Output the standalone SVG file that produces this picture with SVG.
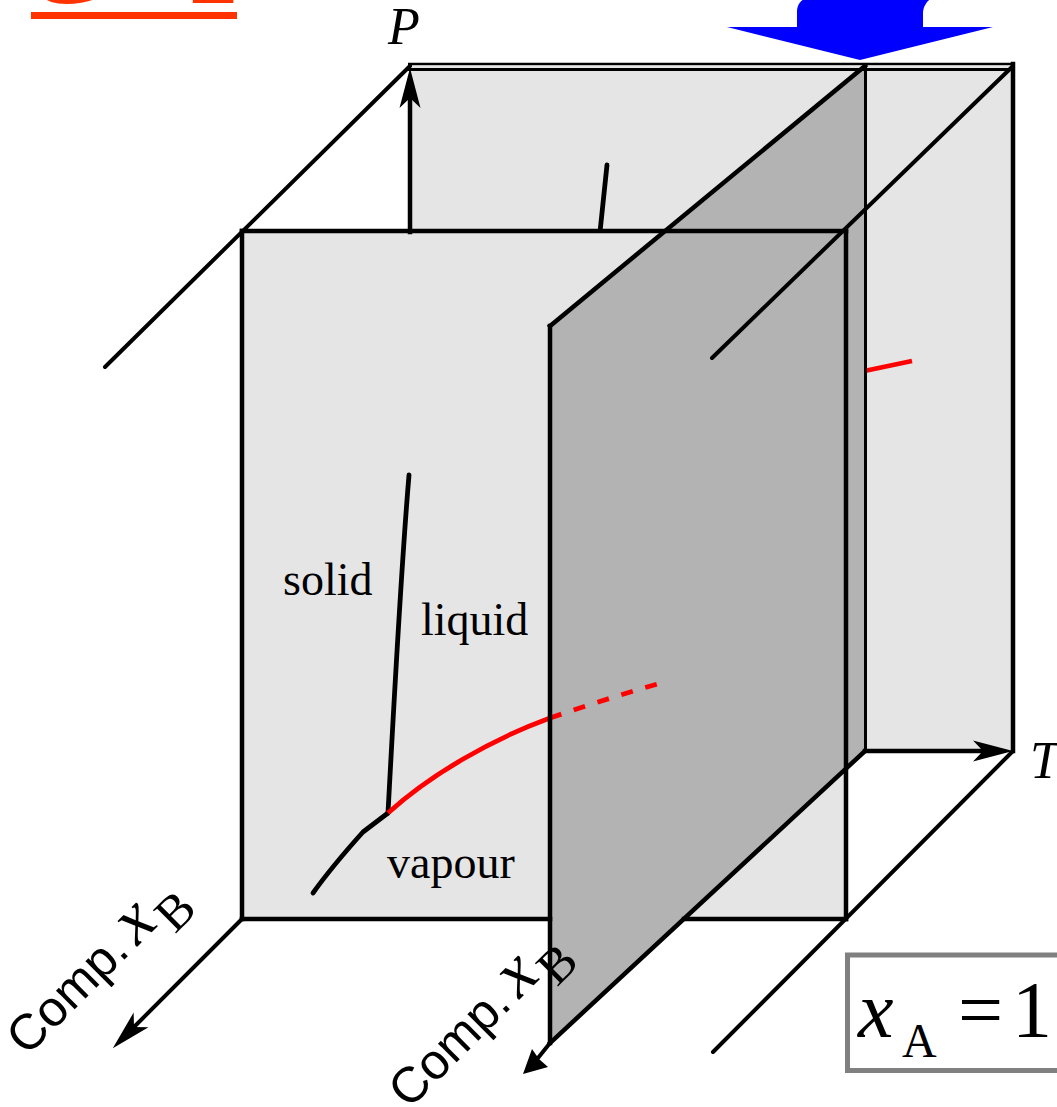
<svg xmlns="http://www.w3.org/2000/svg" width="1057" height="1107" viewBox="0 0 1057 1107">
<style>
.light{fill:#e5e5e5}
.dark{fill:#b3b3b3}
.edge{stroke:#000;stroke-width:4.5;fill:none;stroke-linecap:square}
.diag{stroke:#000;stroke-width:4;fill:none;stroke-linecap:round}
.curve{stroke:#000;stroke-width:4.8;fill:none;stroke-linecap:round;stroke-linejoin:round}
.red{stroke:#ff0000;stroke-width:4.8;fill:none;stroke-linecap:butt}
.phase{font-family:"Liberation Serif","Times New Roman",serif;font-size:46px;fill:#000}
.axis{font-family:"Liberation Serif","Times New Roman",serif;font-style:italic;font-size:52px;fill:#000}
.comp{font-family:"Liberation Sans",Arial,sans-serif;font-size:50px;fill:#000}
.sym{font-family:"Liberation Serif","Times New Roman",serif;fill:#000}
.it{font-family:"Liberation Serif","Times New Roman",serif;font-style:italic}
.title{font-family:"Liberation Serif","Times New Roman",serif;font-weight:bold;font-size:110px;fill:#ff3300}
</style>
<defs>
<marker id="ah" markerUnits="userSpaceOnUse" markerWidth="50" markerHeight="30" viewBox="-15 -15 50 30" refX="0" refY="0" orient="auto" overflow="visible">
<path d="M-10,-10.5 L30,0 L-10,10.5 L0,0 Z" fill="#000"/>
</marker>
</defs>

<g id="title">
<text class="title" y="3"><tspan x="23">C</tspan><tspan x="110">=</tspan><tspan x="184">1</tspan></text>
<rect x="31" y="12" width="206" height="7" fill="#ff3300"/>
</g>

<g id="direction-arrow">
<path d="M727,27 L797,27 L797,12 C797,4 801,0 808,-3 L812,-8 L945,-8 C932,-4 923,2 923,14 L923,27 L993,27 L860,60 Z" fill="#0000ff"/>
</g>

<g id="back-panel">
<rect class="light" x="410" y="66" width="603" height="685"/>
<path class="curve" d="M607,165 L600,232"/>
<path class="red" d="M850,374 L912,361"/>
</g>

<g id="front-panel">
<rect class="light" x="242" y="231" width="604" height="688"/>
<path class="curve" d="M409,475 C401,570 394,700 388,813"/>
<path class="curve" d="M388,813 L363,832 C345,852 328,872 313,893"/>
<path class="red" d="M388,813 C430,775 490,740 550,718"/>
<text class="phase" x="283" y="595">solid</text>
<text class="phase" x="421" y="635">liquid</text>
<text class="phase" x="387" y="878">vapour</text>
</g>

<g id="slice-panel">
<polygon class="dark" points="865,66 865,751 550,1043 550,326"/>
<path class="red" d="M550,718 Q605,699 661,683" stroke-dasharray="12 13"/>
<line class="edge" x1="865" y1="66" x2="550" y2="326"/>
<line class="edge" x1="550" y1="326" x2="550" y2="1043"/>
<line class="edge" x1="865" y1="751" x2="550" y2="1043"/>
<line stroke="#000" stroke-width="3" x1="865.5" y1="66" x2="865.5" y2="751"/>
</g>

<g id="connectors">
<line stroke="#000" stroke-width="2.5" x1="408" y1="64" x2="1015" y2="64"/>
<line stroke="#000" stroke-width="3" x1="408" y1="69.5" x2="1015" y2="69.5"/>
<line class="edge" x1="1013" y1="64" x2="1013" y2="751"/>
<line class="edge" x1="410" y1="232" x2="410" y2="98" marker-end="url(#ah)"/>
<line class="edge" x1="865" y1="751" x2="983" y2="751" marker-end="url(#ah)"/>
<line class="edge" x1="242" y1="231" x2="846" y2="231"/>
<line class="edge" x1="242" y1="231" x2="242" y2="919"/>
<line class="edge" x1="846" y1="231" x2="846" y2="919"/>
<line class="edge" x1="242" y1="919" x2="550" y2="919"/>
<line class="edge" x1="684" y1="919" x2="846" y2="919"/>
<line class="diag" x1="105" y1="367" x2="410" y2="66"/>
<line class="diag" x1="1013" y1="66" x2="712" y2="358"/>
<line class="diag" x1="1013" y1="751" x2="713" y2="1052"/>
<line class="diag" x1="242" y1="919" x2="134" y2="1027" marker-end="url(#ah)"/>
<line class="diag" x1="550" y1="1043" x2="538" y2="1058"/>
<polygon points="523,1074 532,1049 539,1059 548,1067" fill="#000"/>
</g>

<g id="axis-labels">
<text class="axis" x="388" y="44">P</text>
<text class="axis" x="1030" y="778">T</text>
<text transform="translate(27,1057) rotate(-45)"><tspan class="comp">Comp.</tspan><tspan class="it" font-size="70" dx="9">x</tspan><tspan class="sym" font-size="50" dx="4" dy="18">B</tspan></text>
<text transform="translate(409,1110) rotate(-45)"><tspan class="comp">Comp.</tspan><tspan class="it" font-size="70" dx="9">x</tspan><tspan class="sym" font-size="50" dx="4" dy="18">B</tspan></text>
</g>

<g id="xa-box">
<rect x="847.5" y="955" width="230" height="115.5" fill="#fff" stroke="#808080" stroke-width="5"/>
<text class="sym" font-size="80"><tspan class="it" x="858" y="1037">x</tspan><tspan x="902" y="1057" font-size="48">A</tspan><tspan x="958" y="1037">=</tspan><tspan x="1012" y="1037">1</tspan></text>
</g>
</svg>
